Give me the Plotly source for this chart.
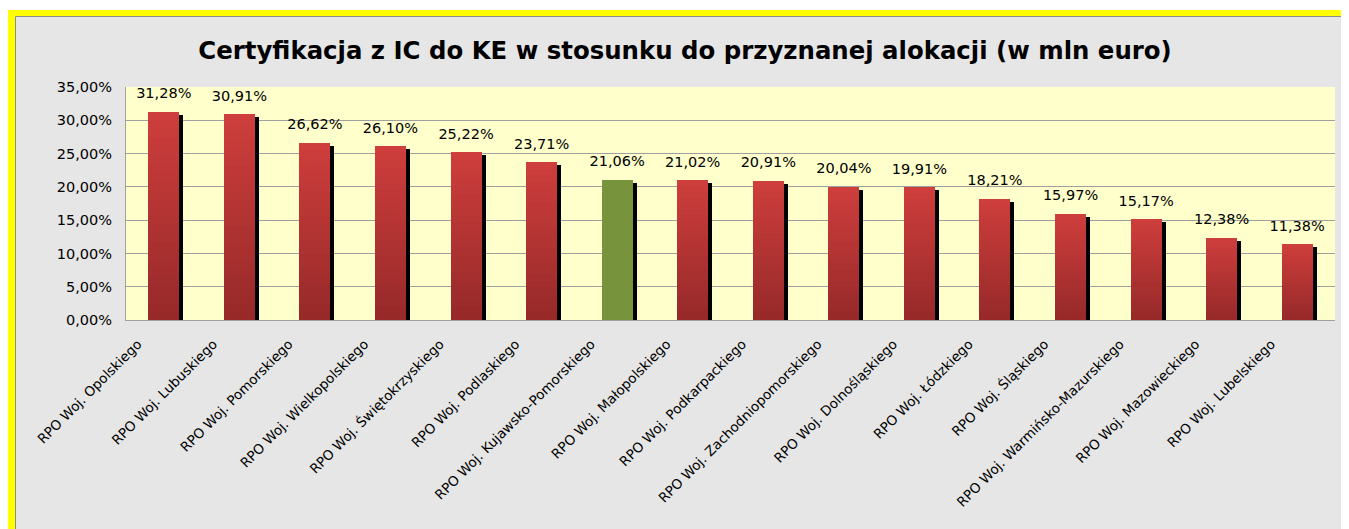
import plotly.graph_objects as go

categories = [
    "RPO Woj. Opolskiego", "RPO Woj. Lubuskiego", "RPO Woj. Pomorskiego",
    "RPO Woj. Wielkopolskiego", "RPO Woj. Świętokrzyskiego", "RPO Woj. Podlaskiego",
    "RPO Woj. Kujawsko-Pomorskiego", "RPO Woj. Małopolskiego", "RPO Woj. Podkarpackiego",
    "RPO Woj. Zachodniopomorskiego", "RPO Woj. Dolnośląskiego", "RPO Woj. Łódzkiego",
    "RPO Woj. Śląskiego", "RPO Woj. Warmińsko-Mazurskiego", "RPO Woj. Mazowieckiego",
    "RPO Woj. Lubelskiego",
]
values = [31.28, 30.91, 26.62, 26.10, 25.22, 23.71, 21.06, 21.02, 20.91,
          20.04, 19.91, 18.21, 15.97, 15.17, 12.38, 11.38]
highlight = "RPO Woj. Kujawsko-Pomorskiego"
tick_vals = [0, 5, 10, 15, 20, 25, 30, 35]
tick_text = ["0,00%", "5,00%", "10,00%", "15,00%", "20,00%", "25,00%", "30,00%", "35,00%"]
title = "Certyfikacja z IC do KE w stosunku do przyznanej alokacji (w mln euro)"

# page body has an 8px margin: figure pixel = screen pixel - 8
OFF = 8
W, H = 1349 - OFF, 529 - OFF
ML, MR, MT, MB = 126 - OFF, 14, 87 - OFF, 209
PW, PH = W - ML - MR, H - MT - MB


def px_x(p):  # screen px -> paper
    return (p - OFF - ML) / PW


def px_y(p):
    return (H - MB - (p - OFF)) / PH


FONT = "DejaVu Sans"
BAR_W = 0.41
SHADOW_DX = 4 / (PW / len(categories))
SHADOW_DY = 3 * 35 / PH  # 3px in data units

top_rgb = (0xCE, 0x3E, 0x3C)
bot_rgb = (0x96, 0x29, 0x29)
green = "#77933C"

fig = go.Figure()

# shadow
fig.add_trace(go.Bar(
    x=categories, y=values, base=[-SHADOW_DY] * len(values),
    width=BAR_W, offset=-BAR_W / 2 + SHADOW_DX,
    marker=dict(color="#000000", line=dict(width=0)),
    hoverinfo="skip", showlegend=False,
))

N = 24
for i in range(N):
    t = (i + 0.5) / N  # 0 bottom, 1 top
    c = tuple(int(round(b + (tp - b) * t)) for tp, b in zip(top_rgb, bot_rgb))
    col = "rgb(%d,%d,%d)" % c
    colors = [green if cat == highlight else col for cat in categories]
    fig.add_trace(go.Bar(
        x=categories, y=[v / N for v in values], base=[v * i / N for v in values],
        width=BAR_W, offset=-BAR_W / 2,
        marker=dict(color=colors, line=dict(width=0)),
        hoverinfo="skip", showlegend=False,
    ))

fig.add_trace(go.Scatter(
    x=categories, y=values, mode="markers+text",
    marker=dict(size=14, opacity=0),
    text=[("%.2f%%" % v).replace(".", ",") for v in values],
    textposition="top center",
    textfont=dict(family=FONT, size=14.5, color="#000000"),
    showlegend=False, hoverinfo="skip", cliponaxis=False,
))

shapes = [
    # white strip above the frame
    dict(type="rect", xref="paper", yref="paper", layer="below",
         x0=px_x(0), x1=px_x(1349 + 20), y0=px_y(10), y1=px_y(0),
         fillcolor="#FFFFFF", line=dict(width=0)),
    # yellow frame (top and left)
    dict(type="rect", xref="paper", yref="paper", layer="below",
         x0=px_x(8), x1=px_x(1349 + 20), y0=px_y(16.5), y1=px_y(10),
         fillcolor="#FFFF00", line=dict(width=0)),
    dict(type="rect", xref="paper", yref="paper", layer="below",
         x0=px_x(8), x1=px_x(15.5), y0=px_y(529 + 20), y1=px_y(10),
         fillcolor="#FFFF00", line=dict(width=0)),
    # thin grey inner edge
    dict(type="line", xref="paper", yref="paper", layer="below",
         x0=px_x(15.5), x1=px_x(1349 + 20), y0=px_y(16.5), y1=px_y(16.5),
         line=dict(color="#8C8C8C", width=1)),
    dict(type="line", xref="paper", yref="paper", layer="below",
         x0=px_x(15.5), x1=px_x(15.5), y0=px_y(16.5), y1=px_y(529 + 20),
         line=dict(color="#8C8C8C", width=1)),
]

fig.update_layout(
    width=W, height=H,
    margin=dict(l=ML, r=MR, t=MT, b=MB, autoexpand=False),
    paper_bgcolor="#E6E6E6", plot_bgcolor="#FFFFCC",
    barmode="overlay", bargap=0,
    shapes=shapes,
    title=dict(text="<b>%s</b>" % title, x=(685 - OFF) / W, xref="container",
               xanchor="center",
               y=1 - (50 - OFF) / H, yref="container", yanchor="middle",
               font=dict(family=FONT, size=24.4, color="#000000")),
    xaxis=dict(type="category", categoryorder="array", categoryarray=categories,
               tickangle=-45, tickfont=dict(family=FONT, size=13.5, color="#000000"),
               ticklabelshift=-26, ticklabelstandoff=10,
               showline=True, linecolor="#A0A0A0", linewidth=1, mirror=False,
               showgrid=False, ticks="", range=[-0.5, len(categories) - 0.5]),
    yaxis=dict(range=[0, 35], tickvals=tick_vals, ticktext=tick_text,
               tickfont=dict(family=FONT, size=14.5, color="#000000"),
               ticklabelstandoff=10,
               showgrid=True, gridcolor="#A0A0A0", gridwidth=1,
               showline=True, linecolor="#A0A0A0", linewidth=1,
               ticks="", zeroline=False),
)

fig.write_html("out.html")
